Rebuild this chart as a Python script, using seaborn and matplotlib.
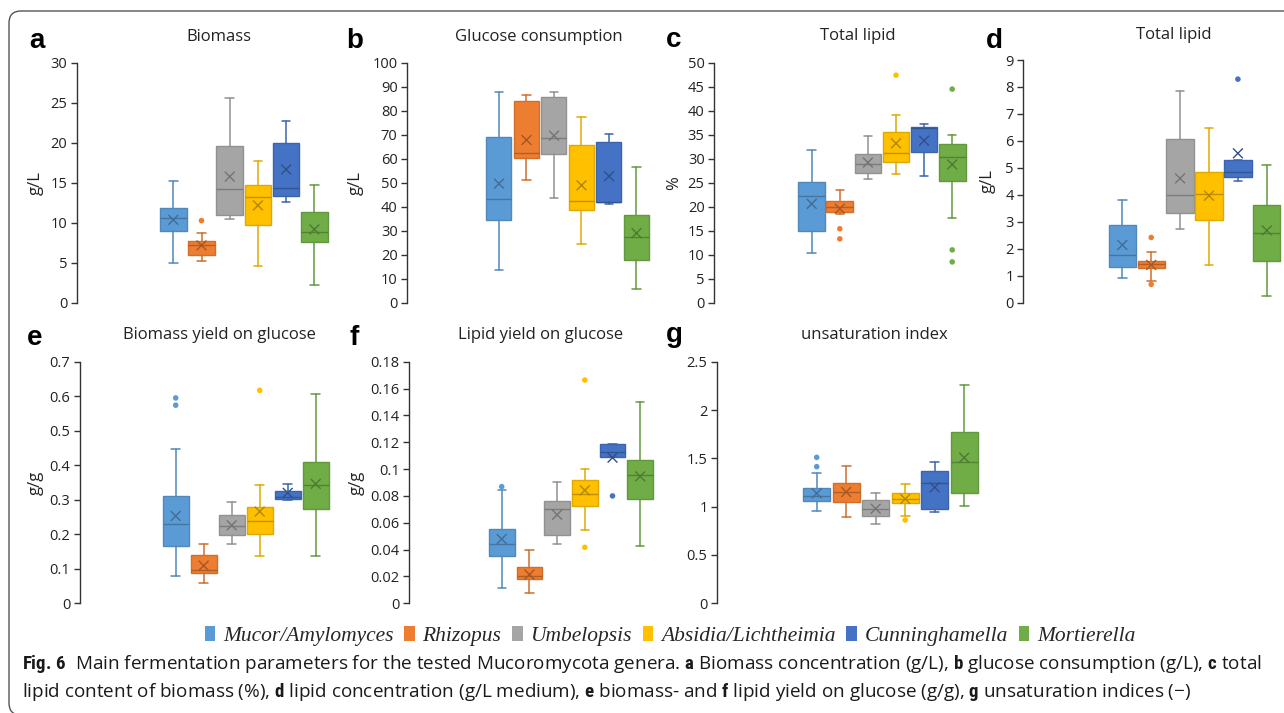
import numpy as np
import pandas as pd
import matplotlib
matplotlib.use("Agg")
import matplotlib.pyplot as plt
import matplotlib.colors as mcolors
from matplotlib import font_manager
from matplotlib.patches import Patch, FancyBboxPatch
from matplotlib.transforms import IdentityTransform
import seaborn as sns

# ---------------- data ----------------
genera = ["Mucor/Amylomyces", "Rhizopus", "Umbelopsis", "Absidia/Lichtheimia",
          "Cunninghamella", "Mortierella"]
colors = ["#5B9BD5", "#ED7D31", "#A5A5A5", "#FFC000", "#4472C4", "#70AD47"]

# [whisker low, Q1, median, Q3, whisker high] per genus
biomass_box = [[5.0, 9.0, 10.6, 11.9, 15.2], [5.2, 6.0, 7.3, 7.7, 8.8],
               [10.5, 11.0, 14.3, 19.6, 25.6], [4.6, 9.8, 13.2, 14.8, 17.8],
               [12.6, 13.4, 14.4, 20.0, 22.7], [2.3, 7.6, 8.9, 11.4, 14.8]]
biomass_mean = [10.4, 7.2, 15.8, 12.2, 16.7, 9.2]
biomass_out = [[], [10.3], [], [], [], []]

glucose_box = [[13.6, 34.5, 43.3, 69.0, 87.7], [51.3, 60.2, 62.4, 83.9, 86.5],
               [43.6, 62.1, 68.8, 85.7, 87.7], [24.3, 38.5, 42.2, 65.7, 77.5],
               [41.3, 41.8, 42.0, 66.8, 70.4], [5.8, 17.9, 27.2, 36.5, 56.7]]
glucose_mean = [49.6, 67.8, 69.6, 48.9, 52.7, 29.0]
glucose_out = [[], [], [], [], [], []]

lipidpct_box = [[10.4, 15.0, 22.2, 25.1, 31.8], [18.5, 19.0, 20.0, 21.2, 23.4],
                [25.8, 27.0, 28.8, 30.9, 34.8], [26.9, 29.3, 31.25, 35.6, 39.2],
                [26.5, 31.4, 36.5, 36.7, 37.2], [17.6, 25.3, 30.3, 33.0, 34.9]]
lipidpct_mean = [20.6, 19.6, 29.2, 33.2, 33.75, 28.8]
lipidpct_out = [[], [15.4, 13.3], [], [47.4], [], [44.5, 11.0, 8.5]]

lipidgl_box = [[0.91, 1.32, 1.76, 2.87, 3.81], [0.79, 1.27, 1.42, 1.53, 1.87],
               [2.74, 3.31, 3.99, 6.06, 7.86], [1.41, 3.05, 4.02, 4.83, 6.49],
               [4.50, 4.67, 4.86, 5.30, 5.30], [0.25, 1.56, 2.57, 3.61, 5.09]]
lipidgl_mean = [2.14, 1.40, 4.61, 3.97, 5.54, 2.68]
lipidgl_out = [[], [2.42, 0.68], [], [], [8.29], []]

yxs_box = [[0.078, 0.166, 0.229, 0.312, 0.448], [0.059, 0.089, 0.097, 0.140, 0.173],
           [0.173, 0.197, 0.223, 0.255, 0.294], [0.138, 0.202, 0.238, 0.278, 0.342],
           [0.300, 0.303, 0.309, 0.326, 0.346], [0.138, 0.274, 0.343, 0.408, 0.605]]
yxs_mean = [0.253, 0.109, 0.226, 0.266, 0.320, 0.346]
yxs_out = [[0.595, 0.574], [], [], [0.617], [], []]

yls_box = [[0.0114, 0.0355, 0.0442, 0.0554, 0.0844], [0.0074, 0.0179, 0.0206, 0.0271, 0.040],
           [0.0442, 0.0511, 0.0705, 0.0765, 0.0901], [0.0549, 0.0725, 0.0814, 0.0921, 0.1001],
           [0.1087, 0.1087, 0.1125, 0.1187, 0.1187], [0.043, 0.0775, 0.0956, 0.1065, 0.150]]
yls_mean = [0.0479, 0.0214, 0.066, 0.0842, 0.1085, 0.0946]
yls_out = [[0.0869], [], [], [0.1663, 0.0417], [0.080], []]

ui_box = [[0.959, 1.055, 1.11, 1.19, 1.345], [0.89, 1.048, 1.152, 1.245, 1.42],
          [0.824, 0.903, 0.972, 1.069, 1.145], [0.907, 1.041, 1.076, 1.145, 1.231],
          [0.945, 0.972, 1.248, 1.372, 1.462], [1.007, 1.145, 1.466, 1.769, 2.262]]
ui_mean = [1.138, 1.152, 0.979, 1.079, 1.200, 1.507]
ui_out = [[1.51, 1.414], [], [], [0.862], [], []]

panel_letters = ["a", "b", "c", "d", "e", "f", "g"]
panel_titles = ["Biomass", "Glucose consumption", "Total lipid", "Total lipid",
                "Biomass yield on glucose", "Lipid yield on glucose", "unsaturation index"]
panel_units = ["g/L", "g/L", "%", "g/L", "g/g", "g/g", ""]
panel_ymax = [30, 100, 50, 9, 0.7, 0.18, 2.5]
panel_ystep = [5, 10, 5, 1, 0.1, 0.02, 0.5]

caption_1 = (r"$\mathbf{Fig.\,6}$  Main fermentation parameters for the tested Mucoromycota genera. "
             r"$\mathbf{a}$ Biomass concentration (g/L), $\mathbf{b}$ glucose consumption (g/L), $\mathbf{c}$ total")
caption_2 = (r"lipid content of biomass (%), $\mathbf{d}$ lipid concentration (g/L medium), "
             r"$\mathbf{e}$ biomass- and $\mathbf{f}$ lipid yield on glucose (g/g), $\mathbf{g}$ unsaturation indices (−)")

# ---------------- style ----------------
W, H = 1284, 713
sns.set_theme(style="ticks")
plt.rcParams["font.family"] = ["Open Sans", "DejaVu Sans"]
avail = {f.name for f in font_manager.fontManager.ttflist}
cap_family = next((f for f in ["Liberation Sans Narrow", "DejaVu Sans Condensed",
                               "Roboto Condensed", "Noto Sans"] if f in avail), "DejaVu Sans")
plt.rcParams["mathtext.fontset"] = "custom"
plt.rcParams["mathtext.rm"] = cap_family
plt.rcParams["mathtext.bf"] = cap_family + ":bold"
plt.rcParams["mathtext.it"] = cap_family + ":italic"

ink = "#333333"
fig = plt.figure(figsize=(W / 100, H / 100), dpi=100)
fig.patch.set_facecolor("white")


def darker(c, f):
    r, g, b = mcolors.to_rgb(c)
    return (r * f, g * f, b * f)


# layout in pixels: spine x, right x, y-top px, y-zero px, first box center, spacing, box width
layout = [
    (77, 335, 63, 303, 173.3, 28.2, 26.7),
    (407.3, 660, 62.7, 302.7, 499, 27.5, 25),
    (714.3, 975, 62.7, 302.7, 811.7, 28.1, 26.7),
    (1023.3, 1284, 60, 302.7, 1122.3, 28.9, 27.3),
    (80, 340, 361.7, 603.3, 175.7, 28.0, 25.7),
    (409.3, 660, 361.7, 603.3, 501.7, 27.7, 25.7),
    (717.3, 980, 361.7, 603.3, 816.7, 29.5, 27.3),
]
letter_pos = [(29, 48), (346, 48), (666, 47), (986, 48), (27, 345), (349, 345), (666, 342)]
title_pos = [(219, 37), (539, 37), (858, 36), (1174, 35), (219, 335), (541, 335), (874, 335)]
ylabel_x = [36, 356, 674, 988, 36, 357, None]

boxes = [biomass_box, glucose_box, lipidpct_box, lipidgl_box, yxs_box, yls_box, ui_box]
means = [biomass_mean, glucose_mean, lipidpct_mean, lipidgl_mean, yxs_mean, yls_mean, ui_mean]
outs = [biomass_out, glucose_out, lipidpct_out, lipidgl_out, yxs_out, yls_out, ui_out]

for k in range(7):
    sx, rx, ytop, y0, c0, sp, bw = layout[k]
    ax = fig.add_axes([sx / W, 1 - y0 / H, (rx - sx) / W, (y0 - ytop) / H])
    ax.set_facecolor("none")
    pos = list(range(len(genera)))
    stats = []
    for i, g in enumerate(genera):
        lo, q1, med, q3, hi = boxes[k][i]
        stats.append(dict(whislo=lo, q1=q1, med=med, q3=q3, whishi=hi,
                          mean=means[k][i], fliers=[], label=g))
    art = ax.bxp(stats, positions=pos, widths=bw / sp, capwidths=0.3,
                 patch_artist=True, showmeans=False, showfliers=False)
    for i, c in enumerate(colors):
        edge = darker(c, 0.88)
        art["boxes"][i].set(facecolor=c, edgecolor=edge, linewidth=1.0)
        art["medians"][i].set(color=darker(c, 0.75), linewidth=1.0)
        for ln in art["whiskers"][2 * i:2 * i + 2] + art["caps"][2 * i:2 * i + 2]:
            ln.set(color=edge, linewidth=1.1)
    mean_df = pd.DataFrame({"x": pos, "y": means[k], "genus": genera})
    sns.scatterplot(data=mean_df, x="x", y="y", hue="genus",
                    palette=[darker(c, 0.7) for c in colors], marker="x", s=50,
                    linewidth=1.0, legend=False, ax=ax, zorder=5)
    rows = [(i, v, genera[i]) for i in range(len(genera)) for v in outs[k][i]]
    if rows:
        out_df = pd.DataFrame(rows, columns=["x", "y", "genus"])
        sns.scatterplot(data=out_df, x="x", y="y", hue="genus",
                        palette={g: c for g, c in zip(genera, colors)},
                        marker="o", s=16, edgecolor="none", legend=False, ax=ax, zorder=5)
    ax.set_xlim((sx - c0) / sp, (rx - c0) / sp)
    ymax, step = panel_ymax[k], panel_ystep[k]
    ax.set_ylim(0, ymax)
    ticks = np.round(np.arange(0, ymax + step / 2, step), 6)
    ax.set_yticks(ticks)
    ax.set_yticklabels([f"{t:g}" for t in ticks])
    ax.set_xticks([])
    ax.set_xlabel("")
    ax.set_ylabel("")
    sns.despine(ax=ax, top=True, right=True, bottom=True, left=False)
    ax.spines["left"].set_color(ink)
    ax.spines["left"].set_linewidth(1.0)
    ax.tick_params(axis="y", direction="out", length=4, width=1.0, color=ink,
                   labelcolor="#222222", labelsize=10.5, pad=3)
    # texts
    lx, ly = letter_pos[k]
    fig.text(lx / W, 1 - ly / H, panel_letters[k], family="Liberation Sans",
             weight="bold", fontsize=20, ha="left", va="baseline", color="black")
    tx, ty = title_pos[k]
    fig.text(tx / W, 1 - ty / H, panel_titles[k], fontsize=12, ha="center",
             va="center", color="#222222")
    if ylabel_x[k] is not None:
        fig.text(ylabel_x[k] / W, 1 - (ytop + y0) / 2 / H, panel_units[k], fontsize=12,
                 rotation=90, ha="center", va="center", color="#222222")

# legend
handles = [Patch(facecolor=c, edgecolor="none", label=g) for g, c in zip(genera, colors)]
fig.legend(handles=handles, loc="center", bbox_to_anchor=(670 / W, 1 - 636 / H),
           ncol=6, frameon=False, handlelength=0.5, handleheight=0.7,
           handletextpad=0.35, columnspacing=0.5, borderaxespad=0,
           prop=font_manager.FontProperties(family="Liberation Serif", style="italic", size=15.5))

# caption (size fitted to the line width)
renderer = fig.canvas.get_renderer()
t1 = fig.text(22 / W, 1 - 664 / H, caption_1, fontsize=12, ha="left", va="center", color="#1a1a1a")
w1 = t1.get_window_extent(renderer).width
fs = 12 * (1240 / w1)
t1.set_fontsize(fs)
fig.text(22 / W, 1 - 692 / H, caption_2, fontsize=fs, ha="left", va="center", color="#1a1a1a")

# rounded frame
frame = FancyBboxPatch((9, -2), 1400, H - 11 + 2, boxstyle="round,pad=0,rounding_size=12",
                       transform=IdentityTransform(), facecolor="none",
                       edgecolor="#555555", linewidth=1.0)
fig.add_artist(frame)

fig.savefig("out.png", dpi=100)
